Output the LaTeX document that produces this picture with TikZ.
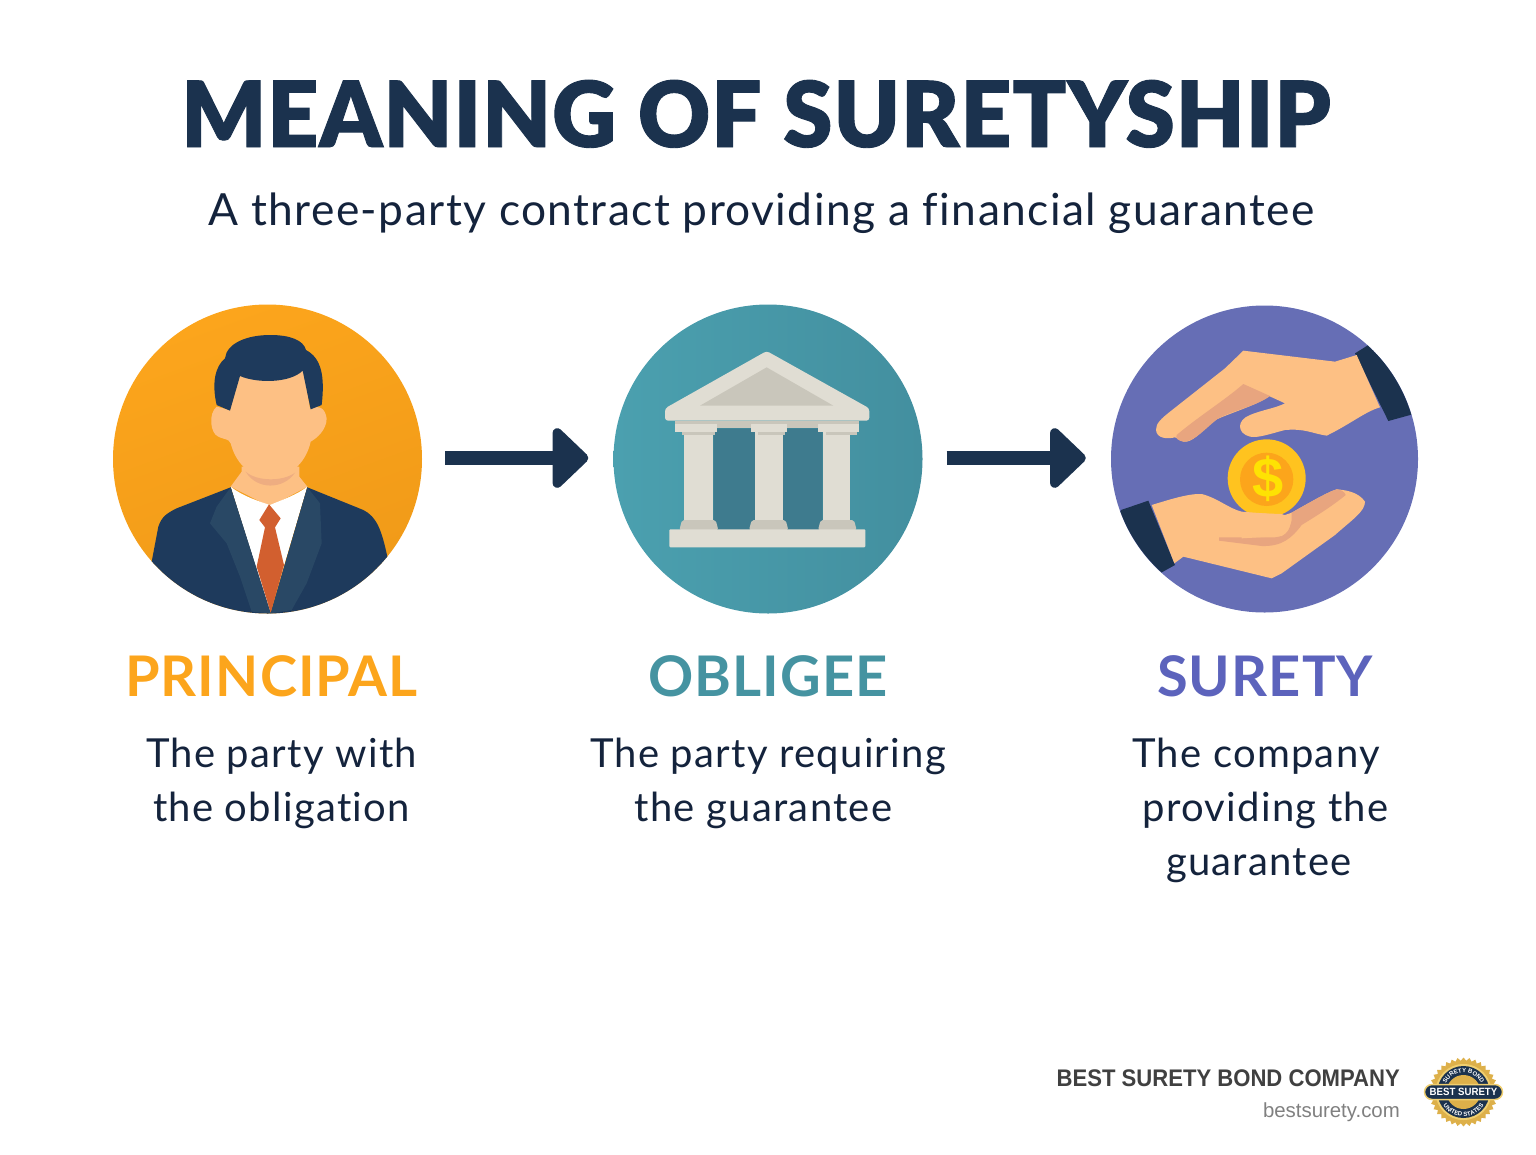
\documentclass[tikz,border=0pt]{standalone}
\usepackage{fontspec}
\usetikzlibrary{arrows.meta,shapes.geometric,decorations.text,shapes.misc}
\setmainfont[LetterSpace=3.2,Ligatures=NoCommon]{Lato}
\newfontfamily\titlefont[FakeBold=1,FakeStretch=0.975,LetterSpace=1.2]{Lato Black}
\newfontfamily\headfont[LetterSpace=2]{Lato Bold}
\newfontfamily\footfont{Liberation Sans}
\newfontfamily\footnarrow[FakeStretch=0.92]{Liberation Sans}
\definecolor{navy}{HTML}{1B324E}
\definecolor{ink}{HTML}{14233C}
\definecolor{suit}{HTML}{1E3A5C}
\definecolor{lapel}{HTML}{294865}
\definecolor{orangeC}{HTML}{FCA51C}
\definecolor{orangeD}{HTML}{F09A18}
\definecolor{tealC}{HTML}{4BA0AF}
\definecolor{tealE}{HTML}{438F9F}
\definecolor{tealD}{HTML}{3E7B8E}
\definecolor{purpleC}{HTML}{666EB5}
\definecolor{skin}{HTML}{FDC084}
\definecolor{skinD}{HTML}{E8A57F}
\definecolor{tieC}{HTML}{D25F2F}
\definecolor{stone}{HTML}{E0DDD3}
\definecolor{stoneD}{HTML}{C9C6BB}
\definecolor{goldA}{HTML}{FFC31F}
\definecolor{goldB}{HTML}{FCA51B}
\definecolor{medal}{HTML}{DDB04A}
\definecolor{medalL}{HTML}{F0CF70}
\tikzset{
  party/.style={circle,minimum size=#1,inner sep=0pt,draw=none},
  heading/.style={font=\headfont\fontsize{56}{56}\selectfont,inner sep=0pt,anchor=base},
  desc/.style={font=\fontsize{40}{54}\selectfont,text=ink,align=center,inner sep=0pt},
  flow/.style={draw=navy,line width=14.5pt,-{Triangle[length=38pt,width=70pt,round]}},
  zoomview/.style={x=0.33333pt,y=-0.33333pt},
}
\begin{document}
\begin{tikzpicture}[x=1pt,y=-1pt]
\useasboundingbox (0,0) rectangle (1536,1154);
\node[party=309pt,shading=axis,left color=orangeC,right color=orangeD,shading angle=20] (principal) at (267.5,459) {};
\node[party=309pt,shading=axis,left color=tealC,right color=tealE] (obligee) at (768,459) {};
\node[party=307pt,fill=purpleC] (surety) at (1264.5,459) {};
\draw[flow,shorten <=23pt,shorten >=25pt] ([yshift=1pt]principal.east) -- ([yshift=1pt]obligee.west);
\draw[flow,shorten <=24pt,shorten >=25pt] ([yshift=1pt]obligee.east) -- ([yshift=1pt]surety.west);

% person
\begin{scope}
\clip (267.5,459) circle (154.5pt);
\begin{scope}[shift={(100,290)},zoomview]
\fill[skin] (425,530) -- (425,545) -- (392,590) -- (510,650) -- (622,590) -- (598,560) -- (598,530) -- cycle;
\fill[skinD!70!skin] (437,545) .. controls (470,600) and (550,600) .. (585,548) .. controls (550,575) and (470,575) .. (437,545) -- cycle;
\fill[white] (392,590) .. controls (430,620) and (480,635) .. (510,645) .. controls (545,630) and (590,615) .. (622,590) -- (560,800) -- (510,965) -- (470,840) -- cycle;
\fill[suit] (155,815) -- (175,710) .. controls (185,680) and (200,670) .. (230,655) -- (392,592) -- (512,970) -- (622,592) -- (790,660) .. controls (830,680) and (845,720) .. (862,800) -- (900,1000) -- (120,1000) -- cycle;
\fill[lapel] (392,592) -- (350,650) -- (330,700) -- (380,760) -- (420,860) -- (455,965) -- (512,970) -- cycle;
\fill[lapel] (622,592) -- (660,640) -- (665,760) -- (620,880) -- (575,960) -- (512,970) -- cycle;
\fill[tieC] (507,643) -- (542,685) -- (525,712) -- (552,825) -- (512,968) -- (470,830) -- (495,712) -- (478,690) -- cycle;
\fill[skin] (350,350) .. controls (325,370) and (330,430) .. (355,440) .. controls (375,450) and (385,445) .. (392,460) .. controls (405,510) and (440,560) .. (510,565) .. controls (580,560) and (620,510) .. (632,455) .. controls (650,445) and (680,420) .. (680,385) .. controls (675,355) and (660,345) .. (630,355) -- (610,240) -- (420,255) -- (390,360) -- cycle;
\fill[suit] (390,362) -- (350,345) .. controls (335,280) and (345,230) .. (375,205) .. controls (380,160) and (440,135) .. (510,135) .. controls (570,135) and (610,150) .. (618,180) .. controls (665,205) and (675,260) .. (665,345) -- (632,358) -- (608,242) .. controls (570,280) and (470,280) .. (420,258) -- cycle;
\end{scope}
\end{scope}

% temple
\begin{scope}[shift={(600,290)},zoomview]
\fill[tealD,rounded corners=4pt] (340,415) rectangle (668,720);
\fill[stoneD] (225,392) rectangle (778,414);
\fill[stone,rounded corners=3pt] (195,355) -- (500,183) -- (808,355) -- (808,392) -- (195,392) -- cycle;
\fill[stoneD] (300,347) -- (500,232) -- (700,347) -- cycle;
\foreach \cl/\cr/\tl/\tr/\bl/\br in {252/340/225/350/238/355,465/550/452/560/447/565,668/750/655/778/654/770}{
  \fill[stone] (\cl,425) rectangle (\cr,695);
  \fill[stoneD] (\tl+22,425) rectangle (\tr-6,436);
  \fill[stone] (\tl,402) rectangle (\tr,425);
  \fill[stoneD,rounded corners=2pt] (\bl,720) -- (\bl+8,690) -- (\br-8,690) -- (\br,720) -- cycle;
}
\fill[stone,rounded corners=1pt] (208,718) rectangle (796,772);
\end{scope}

% hands
\begin{scope}[shift={(1095,290)},zoomview]
\begin{scope}
\clip (508,506) circle (460);
\fill[navy] (780,190) -- (820,165) -- (1000,360) -- (880,393) -- cycle;
\fill[navy] (78,660) -- (160,632) -- (240,825) -- (195,850) -- (60,700) -- cycle;
\end{scope}
\fill[skin] (785,195) -- (855,352) .. controls (810,365) and (770,400) .. (695,437) .. controls (650,430) and (630,415) .. (570,420) .. controls (530,430) and (490,445) .. (465,440) .. controls (425,430) and (425,390) .. (465,375) .. controls (500,360) and (540,355) .. (570,340) -- (522,318) .. controls (490,345) and (400,370) .. (350,395) .. controls (320,425) and (290,460) .. (265,455) -- (240,442) .. controls (215,448) and (185,445) .. (183,420) .. controls (182,400) and (200,385) .. (225,365) -- (390,235) -- (445,182) -- (720,215) -- cycle;
\fill[skinD] (445,282) -- (525,318) .. controls (490,345) and (420,360) .. (370,385) .. controls (330,415) and (300,455) .. (265,455) .. controls (250,452) and (240,445) .. (245,435) .. controls (310,380) and (390,330) .. (445,282) -- cycle;
\fill[goldA] (515,565) circle (117);
\fill[goldB] (515,568) circle (80);
\node[inner sep=0pt,text=yellow!85!orange,font=\footfont\bfseries\fontsize{56}{56}\selectfont] (dollar) at (518,565) {\$};
\fill[skin] (170,645) .. controls (220,630) and (280,610) .. (320,612) .. controls (370,625) and (400,655) .. (440,665) -- (570,675) -- (590,668) .. controls (640,640) and (700,605) .. (725,598) .. controls (750,600) and (790,605) .. (810,635) .. controls (810,665) and (770,690) .. (720,735) -- (560,850) -- (530,865) -- (265,800) -- (238,820) -- cycle;
\fill[skinD] (725,598) .. controls (735,598) and (750,605) .. (752,615) .. controls (710,650) and (660,680) .. (620,705) .. controls (590,745) and (560,770) .. (500,768) -- (372,752) -- (372,742) -- (540,742) .. controls (570,740) and (585,720) .. (590,690) -- (590,668) .. controls (640,640) and (700,605) .. (725,598) -- cycle;
\fill[skin] (440,668) -- (560,672) .. controls (590,680) and (595,720) .. (560,738) -- (440,745) -- cycle;
\end{scope}

% text
\node[font=\titlefont\fontsize{91}{91}\selectfont,text=navy,inner sep=0pt,anchor=base] (title) at (756,147) {MEANING OF SURETYSHIP};
\node[font=\fontsize{44.3}{50}\selectfont,text=ink,inner sep=0pt,anchor=base] (subtitle) at (761.5,225) {A three-party contract providing a financial guarantee};
\node[heading,text=orangeC] (hp) at (271.5,696.5) {PRINCIPAL};
\node[heading,text=tealC!92!black] (ho) at (768,696.5) {OBLIGEE};
\node[heading,text=purpleC!90!blue] (hs) at (1265,696.5) {SURETY};
\node[desc] (dp) at (281.5,783.5) {The party with\\the obligation};
\node[desc] (do) at (768,783.5) {The party requiring\\the guarantee\hspace*{9pt}};
\node[desc] (ds) at (1259,810.5) {The company\hspace*{6pt}\\\hspace*{13pt}providing the\\guarantee};
\node[font=\footnarrow\bfseries\fontsize{24}{24}\selectfont,text=black!75,anchor=east,inner sep=0pt] (brand) at (1400,1078) {BEST SURETY BOND COMPANY};
\node[font=\footfont\fontsize{20.4}{20}\selectfont,text=black!50,anchor=east,inner sep=0pt] (web) at (1400,1112) {bestsurety.com};

% seal
\coordinate (seal) at (1463.5,1092);
\node[star,star points=36,star point ratio=1.1,minimum size=69pt,inner sep=0pt,fill=medal] (burst) at (seal) {};
\fill[medalL] (seal) circle (28pt);
\fill[navy] (seal) circle (26pt);
\fill[medal] (seal) circle (17pt);
\begin{scope}[shift={(seal)},x=1pt,y=1pt]
\path[postaction={decorate,decoration={text along path,text align=center,text={|\footfont\bfseries\fontsize{6}{7}\selectfont\color{white}|SURETY BOND}}}] (155:19.5) arc[start angle=155,end angle=25,radius=19.5];
\path[postaction={decorate,decoration={text along path,text align=center,text={|\footfont\bfseries\fontsize{6}{7}\selectfont\color{white}|UNITED STATES}}}] (205:24.5) arc[start angle=205,end angle=335,radius=24.5];
\end{scope}
\node[rounded rectangle,minimum width=78pt,minimum height=15pt,inner sep=0pt,fill=navy,draw=medalL,line width=1.5pt,text=white,font=\footnarrow\bfseries\fontsize{10.5}{10.5}\selectfont] (band) at (seal) {BEST SURETY};
\end{tikzpicture}
\end{document}
